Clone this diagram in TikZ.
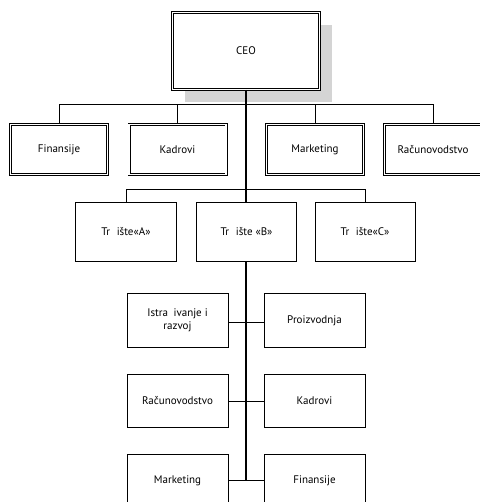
\documentclass[tikz,border=0pt]{standalone}
\usepackage{fontspec}
\setmainfont{PT Sans}
\usetikzlibrary{shadows}
\definecolor{shadowgray}{gray}{0.83}
\tikzset{
  base/.style={rectangle, inner sep=0pt, align=center, font=\fontsize{11}{13}\selectfont, fill=white},
  dblbox/.style={base, draw=black, line width=0.6pt, double=white, double distance=1.8pt},
  plainbox/.style={base, draw=black, line width=0.7pt},
  thinline/.style={draw=black, line width=0.7pt},
  trunk/.style={draw=black, line width=1.8pt},
}
\begin{document}
\begin{tikzpicture}[x=1pt,y=-1pt]
\useasboundingbox (0,0) rectangle (479,502);
% CEO
\node[dblbox, minimum width=147pt, minimum height=77pt,
  general shadow={fill=shadowgray, shadow xshift=12.5pt, shadow yshift=-12.5pt}] (ceo) at (246,51) {CEO};
% level 2
\node[dblbox, minimum width=97pt, minimum height=50pt] (fin) at (59,149.5) {Finansije};
\node[dblbox, minimum width=97pt, minimum height=50pt] (kad) at (177.5,149.5) {Kadrovi};
\node[dblbox, minimum width=97pt, minimum height=50pt] (mkt) at (315,149.5) {Marketing};
\node[dblbox, minimum width=97pt, minimum height=50pt] (rac) at (433,149.5) {Računovodstvo};
% level 3
\node[plainbox, minimum width=101pt, minimum height=59pt] (ta) at (126,231.5) {Tr\hspace{0.6em}ište«A»};
\node[plainbox, minimum width=100pt, minimum height=59pt] (tb) at (246.5,231.5) {Tr\hspace{0.6em}ište «B»};
\node[plainbox, minimum width=100pt, minimum height=59pt] (tc) at (365,231.5) {Tr\hspace{0.6em}ište«C»};
% level 4
\node[plainbox, minimum width=101pt, minimum height=54pt] (ir) at (177.5,320.5) {Istra\hspace{0.5em}ivanje i\\razvoj};
\node[plainbox, minimum width=101pt, minimum height=54pt] (pr) at (314.5,320.5) {Proizvodnja};
\node[plainbox, minimum width=101pt, minimum height=53pt] (rc) at (177.5,400.5) {Računovodstvo};
\node[plainbox, minimum width=101pt, minimum height=53pt] (kd) at (314.5,400.5) {Kadrovi};
\node[plainbox, minimum width=101pt, minimum height=54pt] (mk) at (177.5,481) {Marketing};
\node[plainbox, minimum width=101pt, minimum height=54pt] (fn) at (314.5,481) {Finansije};
% buses
\coordinate (bus1) at (246,104);
\coordinate (bus2) at (246,189);
\draw[thinline] (fin.north) -- (fin.north |- bus1) -- (rac.north |- bus1) -- (rac.north);
\draw[thinline] (kad.north) -- (kad.north |- bus1);
\draw[thinline] (mkt.north) -- (mkt.north |- bus1);
\draw[thinline] (ta.north) -- (ta.north |- bus2) -- (tc.north |- bus2) -- (tc.north);
% level 4 connectors
\draw[thinline] (ir.east |- 0,322) -- (pr.west |- 0,322);
\draw[thinline] (rc.east |- 0,401) -- (kd.west |- 0,401);
\draw[thinline] (mk.east |- 0,480) -- (fn.west |- 0,480);
% trunk
\draw[trunk] (ceo.south) -- (ceo.south |- tb.north);
\draw[trunk] (ceo.south |- tb.south) -- (ceo.south |- mk.east);
\end{tikzpicture}
\end{document}
